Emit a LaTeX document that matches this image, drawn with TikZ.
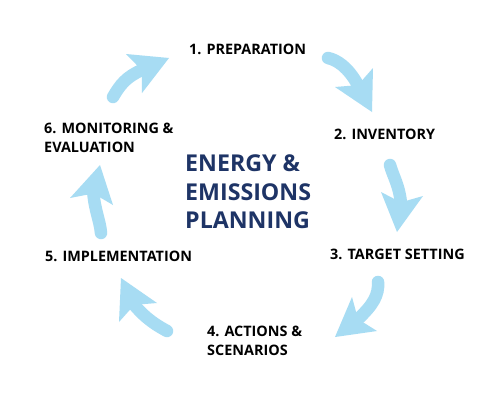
\documentclass[tikz,border=0pt]{standalone}
\usepackage{fontspec}
\setmainfont{Open Sans}
\usetikzlibrary{calc}

\definecolor{cyclesky}{HTML}{A7DCF3}
\definecolor{titlenavy}{HTML}{1E3466}

% one curved cycle arrow: tail, control 1, control 2, tip, barb a, barb b
\newcommand{\cyclearrow}[6]{%
  \coordinate (base) at ($(#5)!0.5!(#6)$);
  \coordinate (notch) at ($(base)!0.22!(#4)$);
  \draw[shaft] (#1) .. controls (#2) and (#3) .. (notch);
  \fill[cyclesky] (#4) -- (#5) -- (notch) -- (#6) -- cycle;
}

\begin{document}
\begin{tikzpicture}[x=1pt,y=-1pt,
    lbl/.style={anchor=west,inner sep=0pt,align=left,font=\bfseries\fontsize{14.4}{19}\selectfont},
    shaft/.style={draw=cyclesky,line width=12.5pt,line cap=round}]
  \fill[white] (0,0) rectangle (495,400);

  % arrows, clockwise from top left
  \cyclearrow{113,97}{120,85}{126,77}{169,58}{126,54}{142,93}
  \cyclearrow{328,58}{337,60}{348,67}{372,112}{373,68}{335,87}
  \cyclearrow{390,165}{393,176}{399,185}{397,232}{381,192}{423,196}
  \cyclearrow{378,282}{379,295}{373,305}{335,337}{352,297}{377,331}
  \cyclearrow{167,331}{158,326}{147,320}{121,278}{157,303}{119,322}
  \cyclearrow{101,233}{100,221}{95,211}{100,165}{70,198}{113,205}

  % steps
  \node[lbl] (prep) at (189,49) {1. PREPARATION};
  \node[lbl] (inv) at (334,134) {2. INVENTORY};
  \node[lbl] (target) at (330,254) {3. TARGET SETTING};
  \node[lbl] (actions) at (207,341) {4. ACTIONS \&\\SCENARIOS};
  \node[lbl] (impl) at (45,256) {5. IMPLEMENTATION};
  \node[lbl] (monit) at (44,137.5) {6. MONITORING \&\\EVALUATION};

  \node[anchor=west,inner sep=0pt,align=left,text=titlenavy,
    font=\bfseries\fontsize{23.2}{28.25}\selectfont] (title) at (185,191.75)
    {ENERGY \&\\EMISSIONS\\PLANNING};
\end{tikzpicture}
\end{document}
